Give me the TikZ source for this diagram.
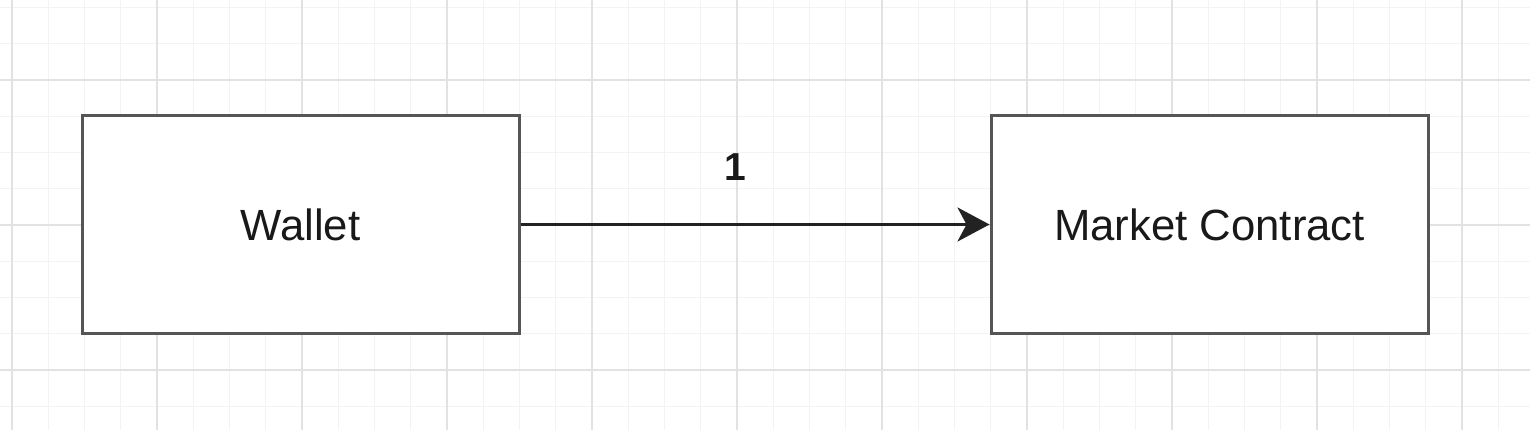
\documentclass[tikz,border=0pt]{standalone}
\usepackage{fontspec}
\setmainfont{Liberation Sans}
\usetikzlibrary{arrows.meta}
\definecolor{gridmajor}{HTML}{E2E2E2}
\definecolor{gridminor}{HTML}{F3F3F3}
\definecolor{boxline}{HTML}{555555}
\definecolor{arrowline}{HTML}{222222}
\tikzset{
  boxnode/.style={draw=boxline, line width=3pt, fill=white, minimum width=437pt, minimum height=217pt, inner sep=0pt, font=\fontsize{43.7}{52}\selectfont, text=black!90},
  conn/.style={draw=arrowline, line width=3pt, -{Stealth[length=32pt, width=34pt, inset=9pt]}},
  edgelabel/.style={font=\bfseries\fontsize{39}{46}\selectfont, text=black!90},
}
\begin{document}
\begin{tikzpicture}[x=1pt,y=-1pt]
\useasboundingbox (0,0) rectangle (1530,430);
\fill[white] (0,0) rectangle (1530,430);
% minor grid
\foreach \i in {-1,...,42} {
  \draw[gridminor, line width=1pt] ({12+36.25*\i},0) -- ({12+36.25*\i},430);
}
\foreach \j in {-3,...,12} {
  \draw[gridminor, line width=1pt] (0,{80+36.25*\j}) -- (1530,{80+36.25*\j});
}
% major grid
\foreach \i in {0,...,10} {
  \draw[gridmajor, line width=1.5pt] ({12+145*\i},0) -- ({12+145*\i},430);
}
\foreach \j in {0,1,2} {
  \draw[gridmajor, line width=1.5pt] (0,{80+145*\j}) -- (1530,{80+145*\j});
}
\node[boxnode] (wallet) at (300.5,224.5) {Wallet};
\node[boxnode] (market) at (1209.5,224.5) {Market Contract};
\draw[conn] (wallet.east) -- (market.west) node[pos=0.458, edgelabel, yshift=57pt] (lbl) {1};
\end{tikzpicture}
\end{document}
